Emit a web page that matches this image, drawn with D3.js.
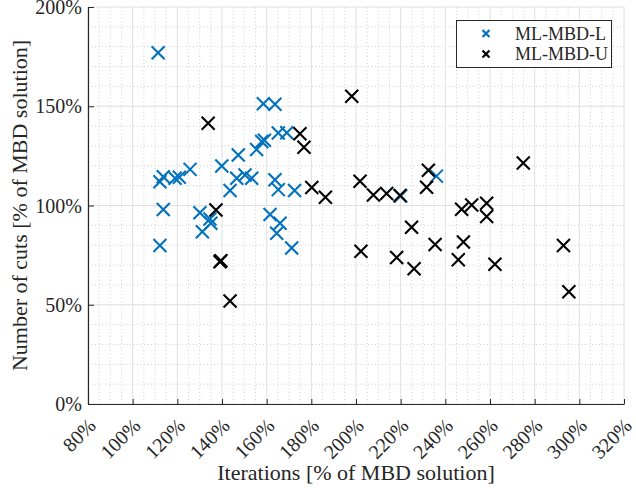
<!DOCTYPE html>
<html>
<head>
<meta charset="utf-8">
<script src="https://d3js.org/d3.v7.min.js"></script>
<style>
  body { margin: 0; background: #fff; }
  text { font-family: "Liberation Serif", "Times New Roman", serif; fill: #262626; }
</style>
</head>
<body>
<div id="chart"></div>
<script>
// series names
var seriesNames = ["ML-MBD-L", "ML-MBD-U"];

// ML-MBD-L: iterations and cuts (% of MBD solution)
var lIter = [111.4, 112.2, 113.7, 119.0, 120.9, 125.7, 113.7, 112.2, 130.1, 131.2,
             134.6, 135.0, 139.9, 143.6, 147.3, 146.6, 150.3, 153.3, 155.5, 157.8,
             159.0, 158.5, 163.7, 163.7, 165.2, 161.5, 166.0, 164.5, 165.2, 169.0,
             172.5, 171.2, 236.0, 220.0];
var lCuts = [177.0, 112.0, 114.5, 113.7, 114.2, 118.2, 98.0, 79.9, 96.4, 86.8,
             93.2, 91.0, 119.9, 107.6, 125.4, 113.7, 115.4, 113.7, 128.2, 132.2,
             132.9, 151.3, 151.0, 113.0, 108.0, 95.5, 91.0, 86.0, 136.5, 136.7,
             107.5, 78.6, 114.8, 104.8];

// ML-MBD-U
var uIter = [133.8, 137.3, 139.1, 139.5, 143.6, 174.9, 176.7, 180.2, 186.3, 198.1,
             201.8, 202.2, 207.8, 213.7, 219.7, 218.2, 224.9, 226.0, 232.4, 231.6,
             235.4, 245.8, 247.3, 248.1, 251.8, 258.5, 258.5, 262.2, 274.9, 292.9,
             295.3];
var uCuts = [141.4, 97.7, 71.7, 72.2, 51.9, 136.2, 129.3, 109.1, 104.2, 155.0,
             112.2, 76.9, 105.3, 106.1, 105.0, 73.8, 89.0, 68.1, 117.7, 109.2,
             80.3, 72.7, 98.1, 81.6, 100.3, 101.1, 94.4, 70.4, 121.4, 79.9,
             56.5];

// ticks
var xTicks = [80, 100, 120, 140, 160, 180, 200, 220, 240, 260, 280, 300, 320];
var yTicks = [0, 50, 100, 150, 200];

var width = 636, height = 491;
var pLeft = 88, pRight = 624, pTop = 7, pBottom = 404;
var colors = ["#0072BD", "#000000"];

var svg = d3.select("#chart").append("svg")
    .attr("width", width)
    .attr("height", height);

var x = d3.scaleLinear().domain([80, 320]).range([pLeft, pRight]);
var y = d3.scaleLinear().domain([0, 200]).range([pBottom, pTop]);

// minor grid
var xMinor = d3.range(80, 321, 5).filter(function(v) { return v % 20 !== 0; });
var yMinor = d3.range(0, 201, 10).filter(function(v) { return v % 50 !== 0; });
var grid = svg.append("g");
grid.selectAll(".xminor").data(xMinor).enter().append("line")
    .attr("x1", function(d) { return x(d); }).attr("x2", function(d) { return x(d); })
    .attr("y1", pTop).attr("y2", pBottom)
    .attr("stroke", "#c4c4c4").attr("stroke-width", 0.8).attr("stroke-dasharray", "1,2.5");
grid.selectAll(".yminor").data(yMinor).enter().append("line")
    .attr("x1", pLeft).attr("x2", pRight)
    .attr("y1", function(d) { return y(d); }).attr("y2", function(d) { return y(d); })
    .attr("stroke", "#c4c4c4").attr("stroke-width", 0.8).attr("stroke-dasharray", "1,2.5");

// major grid
grid.selectAll(".xmajor").data(xTicks).enter().append("line")
    .attr("x1", function(d) { return x(d); }).attr("x2", function(d) { return x(d); })
    .attr("y1", pTop).attr("y2", pBottom)
    .attr("stroke", "#e0e0e0").attr("stroke-width", 1);
grid.selectAll(".ymajor").data(yTicks).enter().append("line")
    .attr("x1", pLeft).attr("x2", pRight)
    .attr("y1", function(d) { return y(d); }).attr("y2", function(d) { return y(d); })
    .attr("stroke", "#e0e0e0").attr("stroke-width", 1);

// axes
svg.append("g")
    .attr("transform", "translate(0," + pBottom + ")")
    .call(d3.axisBottom(x).tickValues(xTicks).tickSizeInner(-5).tickSizeOuter(0).tickFormat(""));
svg.append("g")
    .attr("transform", "translate(" + pLeft + ",0)")
    .call(d3.axisLeft(y).tickValues(yTicks).tickSizeInner(-6).tickSizeOuter(0).tickFormat(""));
svg.selectAll(".domain").attr("stroke", "#262626").attr("stroke-width", 1.2);
svg.selectAll(".tick line").attr("stroke", "#262626");

// x tick labels, rotated
svg.append("g").selectAll("text").data(xTicks).enter().append("text")
    .attr("transform", function(d) { return "translate(" + (x(d) + 9) + "," + (pBottom + 23) + ") rotate(-45)"; })
    .attr("text-anchor", "end")
    .attr("font-size", 20)
    .text(function(d) { return d + "%"; });

// y tick labels
svg.append("g").selectAll("text").data(yTicks).enter().append("text")
    .attr("x", pLeft - 6)
    .attr("y", function(d) { return y(d) + 7; })
    .attr("text-anchor", "end")
    .attr("font-size", 20)
    .text(function(d) { return d + "%"; });

// axis titles
svg.append("text")
    .attr("x", (pLeft + pRight) / 2)
    .attr("y", 480)
    .attr("text-anchor", "middle")
    .attr("font-size", 22)
    .text("Iterations [% of MBD solution]");
svg.append("text")
    .attr("transform", "translate(27," + ((pTop + pBottom) / 2) + ") rotate(-90)")
    .attr("text-anchor", "middle")
    .attr("font-size", 22)
    .text("Number of cuts [% of MBD solution]");

// x markers
function cross(s) {
    return "M" + (-s) + "," + (-s) + "L" + s + "," + s + "M" + (-s) + "," + s + "L" + s + "," + (-s);
}

var series = [
    { name: seriesNames[0], xs: lIter, ys: lCuts },
    { name: seriesNames[1], xs: uIter, ys: uCuts }
];

series.forEach(function(s, i) {
    svg.append("g").selectAll("path")
        .data(d3.range(s.xs.length))
        .enter().append("path")
        .attr("d", cross(6.5))
        .attr("transform", function(j) { return "translate(" + x(s.xs[j]) + "," + y(s.ys[j]) + ")"; })
        .attr("fill", "none")
        .attr("stroke", colors[i])
        .attr("stroke-width", 2.1);
});

// legend
var lg = svg.append("g");
lg.append("rect")
    .attr("x", 456.5).attr("y", 20.5)
    .attr("width", 155).attr("height", 47)
    .attr("fill", "#fff").attr("stroke", "#262626").attr("stroke-width", 1);
series.forEach(function(s, i) {
    var yy = 33.5 + i * 20.5;
    lg.append("path")
        .attr("d", cross(3.5))
        .attr("transform", "translate(486," + yy + ")")
        .attr("fill", "none")
        .attr("stroke", colors[i])
        .attr("stroke-width", 2.2);
    lg.append("text")
        .attr("x", 515)
        .attr("y", yy + 6)
        .attr("font-size", 18)
        .text(s.name);
});
</script>
</body>
</html>
